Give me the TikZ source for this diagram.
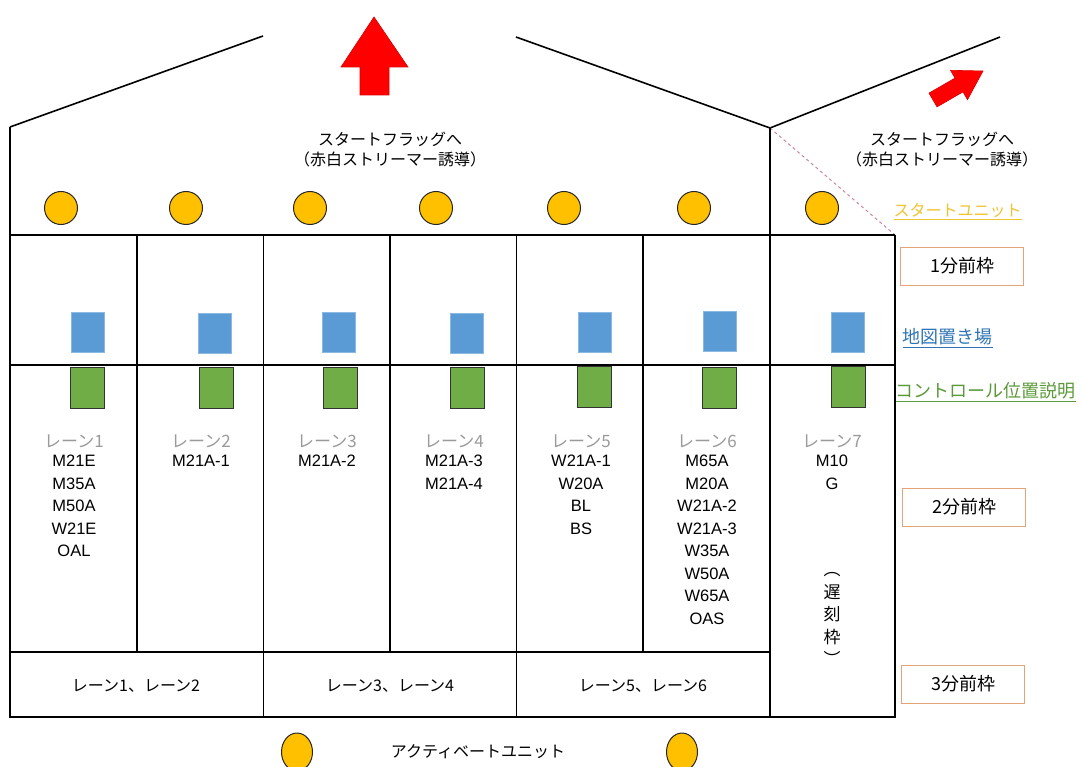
\documentclass[tikz,border=0pt]{standalone}
\usepackage{fontspec}
\setmainfont{Noto Sans CJK JP}
\newfontfamily\lat{Liberation Sans}
\usepackage{tikz}
\usepackage{xcolor}
\usetikzlibrary{shapes.geometric}
\usetikzlibrary{positioning}

\definecolor{unitgold}{HTML}{FFC000}
\definecolor{mapblue}{HTML}{5B9BD5}
\definecolor{descgreen}{HTML}{70AD47}
\definecolor{frameorange}{HTML}{E3A47A}
\definecolor{startyellow}{HTML}{F2C230}
\definecolor{maptext}{HTML}{2E74B5}
\definecolor{desctext}{HTML}{5B9A3A}
\definecolor{lanegray}{HTML}{9A9A9A}
\definecolor{dashpink}{HTML}{CC8899}
\definecolor{arrowred}{HTML}{FF0000}

\tikzset{
  startunit/.style={circle,draw=black!85,fill=unitgold,line width=1pt,minimum size=33pt,inner sep=0pt},
  actunit/.style={ellipse,draw=black!85,fill=unitgold,line width=1pt,minimum width=31pt,minimum height=38pt,inner sep=0pt},
  mapbox/.style={draw=mapblue!70!white,fill=mapblue,line width=1pt,minimum width=33pt,minimum height=40pt,inner sep=0pt},
  descbox/.style={draw=black!80,fill=descgreen,line width=1pt,minimum width=34pt,minimum height=41pt,inner sep=0pt},
  timebox/.style={draw=frameorange,fill=white,line width=1pt,minimum width=123pt,minimum height=38pt,font=\fontsize{18}{20}\selectfont},
  lanehead/.style={text=lanegray,font=\fontsize{17}{20}\selectfont},
  classlist/.style={align=center,anchor=north,inner sep=0pt,font=\lat\fontsize{16.5}{22.5}\selectfont},
  guide/.style={align=center,font=\fontsize{16}{20}\selectfont},
  wall/.style={black,line width=1.6pt},
  thinwall/.style={black,line width=0.9pt}
}

\begin{document}
\begin{tikzpicture}[x=1pt,y=-1pt]
                    \useasboundingbox (0,0) rectangle (1083,767);

                    % roof
                    \draw[wall] (10,127) -- (263,36);
                    \draw[wall] (516,37) -- (770,128) -- (1000,37);
                    \draw[dashpink,dashed,line width=1pt] (770,128) -- (895,235);

                    % arrows to the start flag
                    \draw[arrowred!85!black,fill=arrowred,line width=0.6pt] (374,17) -- (408,67) -- (389,67) -- (389,95) -- (360,95) -- (360,67) -- (341,67) -- cycle;
                    \draw[arrowred!85!black,fill=arrowred,line width=0.6pt] (983,71) -- (967.5,99.7) -- (963,91.9) -- (937,106.9) -- (929,93.1) -- (955,78.1) -- (950.5,70.3) -- cycle;
                    \node[guide] (flagmain) at (390,150) {スタートフラッグへ\\（赤白ストリーマー誘導）};
                    \node[guide] (flagside) at (942,150) {スタートフラッグへ\\（赤白ストリーマー誘導）};

                    % lanes
                    \draw[wall] (10,127) -- (10,717) -- (895,717) -- (895,235);
                    \draw[wall] (770,128) -- (770,717);
                    \draw[wall] (10,235) -- (895,235);
                    \draw[wall] (10,365) -- (895,365);
                    \draw[wall] (10,652) -- (770,652);
                    \draw[wall] (137,235) -- (137,652);
                    \draw[wall] (390,235) -- (390,652);
                    \draw[wall] (643,235) -- (643,652);
                    \draw[thinwall] (263,235) -- (263,717);
                    \draw[thinwall] (516,235) -- (516,717);

                    % start units
                    \node[startunit] (su1) at (61,208) {};
                    \node[startunit] (su2) at (186,208) {};
                    \node[startunit] (su3) at (310,208) {};
                    \node[startunit] (su4) at (436,208) {};
                    \node[startunit] (su5) at (564,208) {};
                    \node[startunit] (su6) at (694,208) {};
                    \node[startunit] (su7) at (822,208) {};

                    % map places
                    \node[mapbox] (map1) at (88,332) {};
                    \node[mapbox] (map2) at (215,333) {};
                    \node[mapbox] (map3) at (339,332) {};
                    \node[mapbox] (map4) at (467,333) {};
                    \node[mapbox] (map5) at (595,332) {};
                    \node[mapbox] (map6) at (720,331) {};
                    \node[mapbox] (map7) at (848,332) {};

                    % control descriptions
                    \node[descbox] (desc1) at (87,388) {};
                    \node[descbox] (desc2) at (216,388) {};
                    \node[descbox] (desc3) at (340,388) {};
                    \node[descbox] (desc4) at (467,388) {};
                    \node[descbox] (desc5) at (594,387) {};
                    \node[descbox] (desc6) at (719,388) {};
                    \node[descbox] (desc7) at (848,387) {};

                    % lane names and classes
                    \node[lanehead] (lane1) at (74,441) {レーン1};
                    \node[lanehead] (lane2) at (201,441) {レーン2};
                    \node[lanehead] (lane3) at (327,441) {レーン3};
                    \node[lanehead] (lane4) at (454,441) {レーン4};
                    \node[lanehead] (lane5) at (581,441) {レーン5};
                    \node[lanehead] (lane6) at (707,441) {レーン6};
                    \node[lanehead] (lane7) at (832,441) {レーン7};
                    \node[classlist] (cls1) at (74,455) {M21E\\M35A\\M50A\\W21E\\OAL};
                    \node[classlist] (cls2) at (201,455) {M21A-1};
                    \node[classlist] (cls3) at (327,455) {M21A-2};
                    \node[classlist] (cls4) at (454,455) {M21A-3\\M21A-4};
                    \node[classlist] (cls5) at (581,455) {W21A-1\\W20A\\BL\\BS};
                    \node[classlist] (cls6) at (707,455) {M65A\\M20A\\W21A-2\\W21A-3\\W35A\\W50A\\W65A\\OAS};
                    \node[classlist] (cls7) at (832,455) {M10\\G};
                    \node[align=center,inner sep=0pt,font=\fontsize{17}{22.5}\selectfont] (late) at (832,619) {︵\\遅\\刻\\枠\\︶};

                    % 3 minute row
                    \node[font=\fontsize{16}{20}\selectfont] (row12) at (136,686) {レーン1、レーン2};
                    \node[font=\fontsize{16}{20}\selectfont] (row34) at (390,686) {レーン3、レーン4};
                    \node[font=\fontsize{16}{20}\selectfont] (row56) at (643,686) {レーン5、レーン6};

                    % legend on the right
                    \node[anchor=west,text=startyellow,font=\fontsize{16}{20}\selectfont] (startlbl) at (890,212) {\underline{スタートユニット}};
                    \node[timebox] (min1) at (962,266) {1分前枠};
                    \node[anchor=west,text=maptext,font=\fontsize{18}{20}\selectfont] (maplbl) at (899,338) {\underline{地図置き場}};
                    \node[anchor=west,text=desctext,font=\fontsize{18}{20}\selectfont] (desclbl) at (892,392) {\underline{コントロール位置説明}};
                    \node[timebox] (min2) at (964,507) {2分前枠};
                    \node[timebox] (min3) at (963,684) {3分前枠};

                    % activate units
                    \node[actunit] (act1) at (297,752) {};
                    \node[actunit] (act2) at (682,752) {};
                    \node[font=\fontsize{16}{20}\selectfont] (actlbl) at (478,752) {アクティベートユニット};
                \end{tikzpicture}
\end{document}
